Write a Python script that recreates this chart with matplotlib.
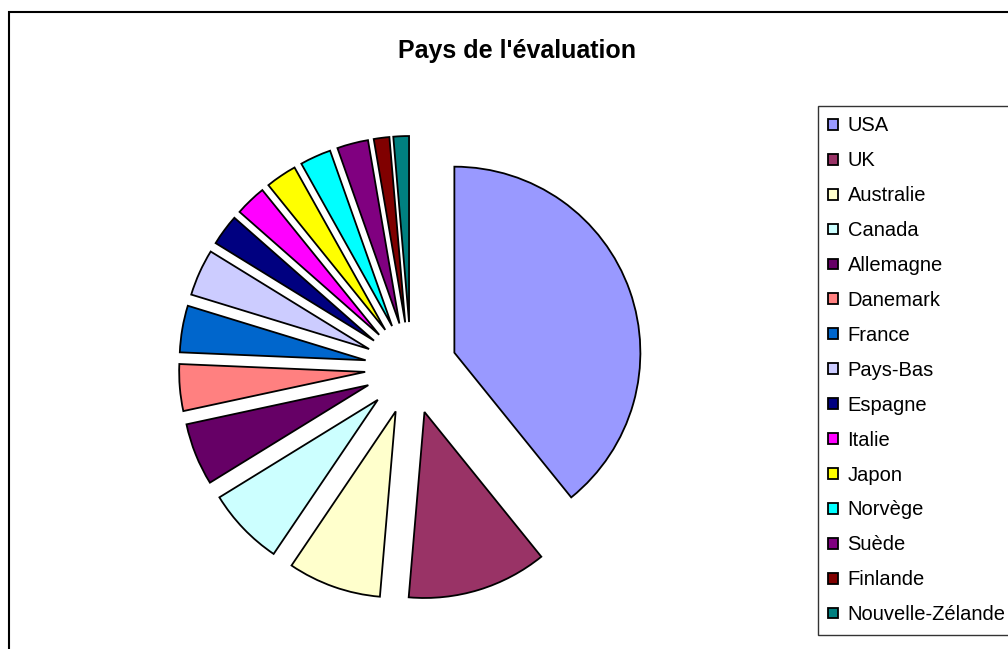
import matplotlib.pyplot as plt
from matplotlib.patches import Rectangle

plt.rcParams['font.family'] = ['Liberation Sans', 'DejaVu Sans']

pays = ['USA', 'UK', 'Australie', 'Canada', 'Allemagne', 'Danemark', 'France',
        'Pays-Bas', 'Espagne', 'Italie', 'Japon', 'Norvège', 'Suède',
        'Finlande', 'Nouvelle-Zélande']
nombre = [29, 9, 6, 5, 4, 3, 3, 3, 2, 2, 2, 2, 2, 1, 1]
couleurs = ['#9999FF', '#993366', '#FFFFCC', '#CCFFFF', '#660066', '#FF8080',
            '#0066CC', '#CCCCFF', '#000080', '#FF00FF', '#FFFF00', '#00FFFF',
            '#800080', '#800000', '#008080']

W, H = 1008, 649
fig = plt.figure(figsize=(W / 100, H / 100), dpi=100)
ax = fig.add_axes([0, 0, 1, 1])

# pie laid out in pixel units (y up); explode is in the same units
wedges, _ = ax.pie(nombre, colors=couleurs, startangle=90, counterclock=False,
                   center=(411, H - 368), radius=186,
                   explode=[46] * len(nombre),
                   wedgeprops=dict(edgecolor='black', linewidth=1.3))
ax.set_xlim(0, W)
ax.set_ylim(0, H)
ax.set_aspect('equal')
ax.axis('off')

# outer chart border
fig.patches.append(Rectangle((9 / W, -0.1), 1.2, (H - 12) / H + 0.1,
                             transform=fig.transFigure, fill=False,
                             edgecolor='black', linewidth=1.5))

fig.text(517 / W, 1 - 51 / H, "Pays de l'évaluation", ha='center', va='center',
         fontsize=18, fontweight='bold')

leg = ax.legend(wedges, pays, loc='upper left',
                bbox_to_anchor=(818 / W, 1 - 106 / H),
                bbox_transform=fig.transFigure,
                fontsize=14.5, frameon=True, fancybox=False, shadow=False,
                handlelength=0.45, handleheight=0.45, handletextpad=0.5,
                labelspacing=0.79, borderpad=0.52, borderaxespad=0)
leg.get_frame().set_edgecolor('black')
leg.get_frame().set_linewidth(1.0)

plt.savefig('out.png', dpi=100)
